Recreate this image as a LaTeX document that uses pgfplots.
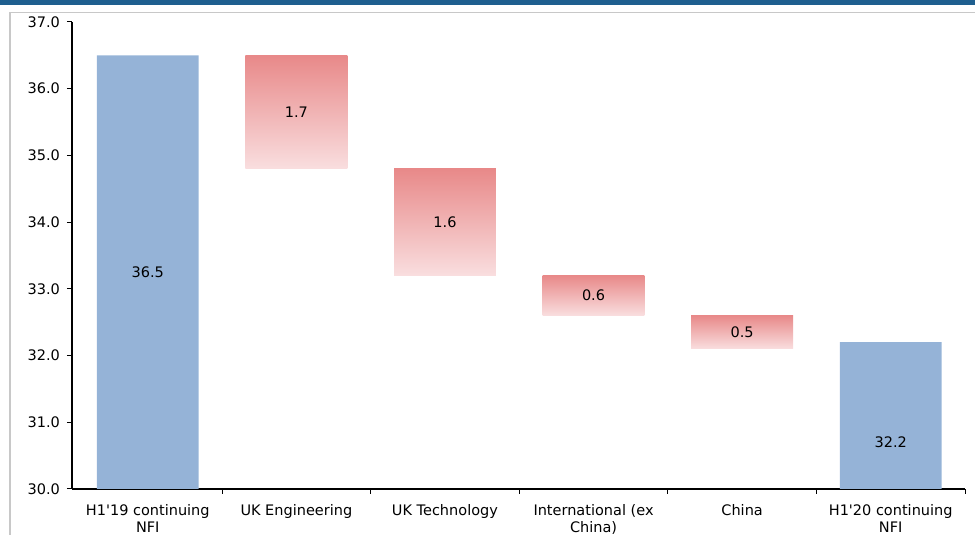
\documentclass[border=0pt]{standalone}
\usepackage{pgfplots}
\pgfplotsset{compat=1.18}
\usepackage{fontspec}
\setmainfont{DejaVu Sans}
\definecolor{barblue}{RGB}{149,179,215}
\definecolor{redtop}{RGB}{232,137,137}
\definecolor{redbot}{RGB}{249,222,223}
\definecolor{band}{RGB}{31,95,143}
\definecolor{framegray}{RGB}{200,200,200}
\newcommand{\lblfont}{\fontsize{14.5bp}{17bp}\selectfont}
\begin{document}
\lblfont
\begin{tikzpicture}
\path[use as bounding box] (0bp,0bp) rectangle (975bp,535bp);
\fill[band] (0bp,530.3bp) rectangle (975bp,535bp);
\draw[framegray, line width=1.5bp] (10bp,0bp) -- (10bp,522.5bp) -- (975bp,522.5bp);
\begin{axis}[
  at={(72bp,46bp)}, anchor=south west,
  width=893bp, height=467bp, scale only axis,
  xmin=-0.51, xmax=5.5, ymin=30, ymax=37,
  ybar stacked, stacked ignores zero, bar width=0.685,
  axis lines*=left,
  axis line style={black, line width=1.2bp},
  xtick={0,...,5},
  xticklabels={H1\textquotesingle19 continuing\\NFI, UK Engineering, UK Technology, International (ex\\China), China, H1\textquotesingle20 continuing\\NFI},
  xticklabel style={align=center, font=\lblfont, yshift=-5bp},
  major x tick style={draw=none},
  minor xtick={0.5,1.5,...,5.5},
  tick align=outside,
  ytick={30,...,37},
  yticklabel style={font=\lblfont, xshift=-2bp, /pgf/number format/.cd, fixed, fixed zerofill, precision=1},
  /pgf/number format/assume math mode=true,
  tick style={black, line width=1bp},
  major tick length=5bp, minor tick length=5bp,
  redbar/.style={draw=none, shading=axis, top color=redtop, bottom color=redbot},
]
\addplot[draw=none, fill=none] coordinates {(0,0) (1,34.8) (2,33.2) (3,32.6) (4,32.1) (5,0)};
\addplot[draw=none, fill=barblue] coordinates {(0,36.5) (1,0) (2,0) (3,0) (4,0) (5,32.2)};
\addplot[redbar] coordinates {(0,0) (1,1.7) (2,0) (3,0) (4,0) (5,0)};
\addplot[redbar] coordinates {(0,0) (1,0) (2,1.6) (3,0) (4,0) (5,0)};
\addplot[redbar] coordinates {(0,0) (1,0) (2,0) (3,0.6) (4,0) (5,0)};
\addplot[redbar] coordinates {(0,0) (1,0) (2,0) (3,0) (4,0.5) (5,0)};
\end{axis}
\begin{axis}[
  at={(72bp,46bp)}, anchor=south west,
  width=893bp, height=467bp, scale only axis,
  xmin=-0.51, xmax=5.5, ymin=30, ymax=37,
  hide axis,
]
\addplot[draw=none, mark=none, nodes near coords, point meta=explicit symbolic,
  every node near coord/.append style={anchor=center, font=\lblfont, text=black}]
  coordinates {(0,33.25)[36.5] (1,35.65)[1.7] (2,34.0)[1.6] (3,32.9)[0.6] (4,32.35)[0.5] (5,30.7)[32.2]};
\end{axis}
\end{tikzpicture}
\end{document}
